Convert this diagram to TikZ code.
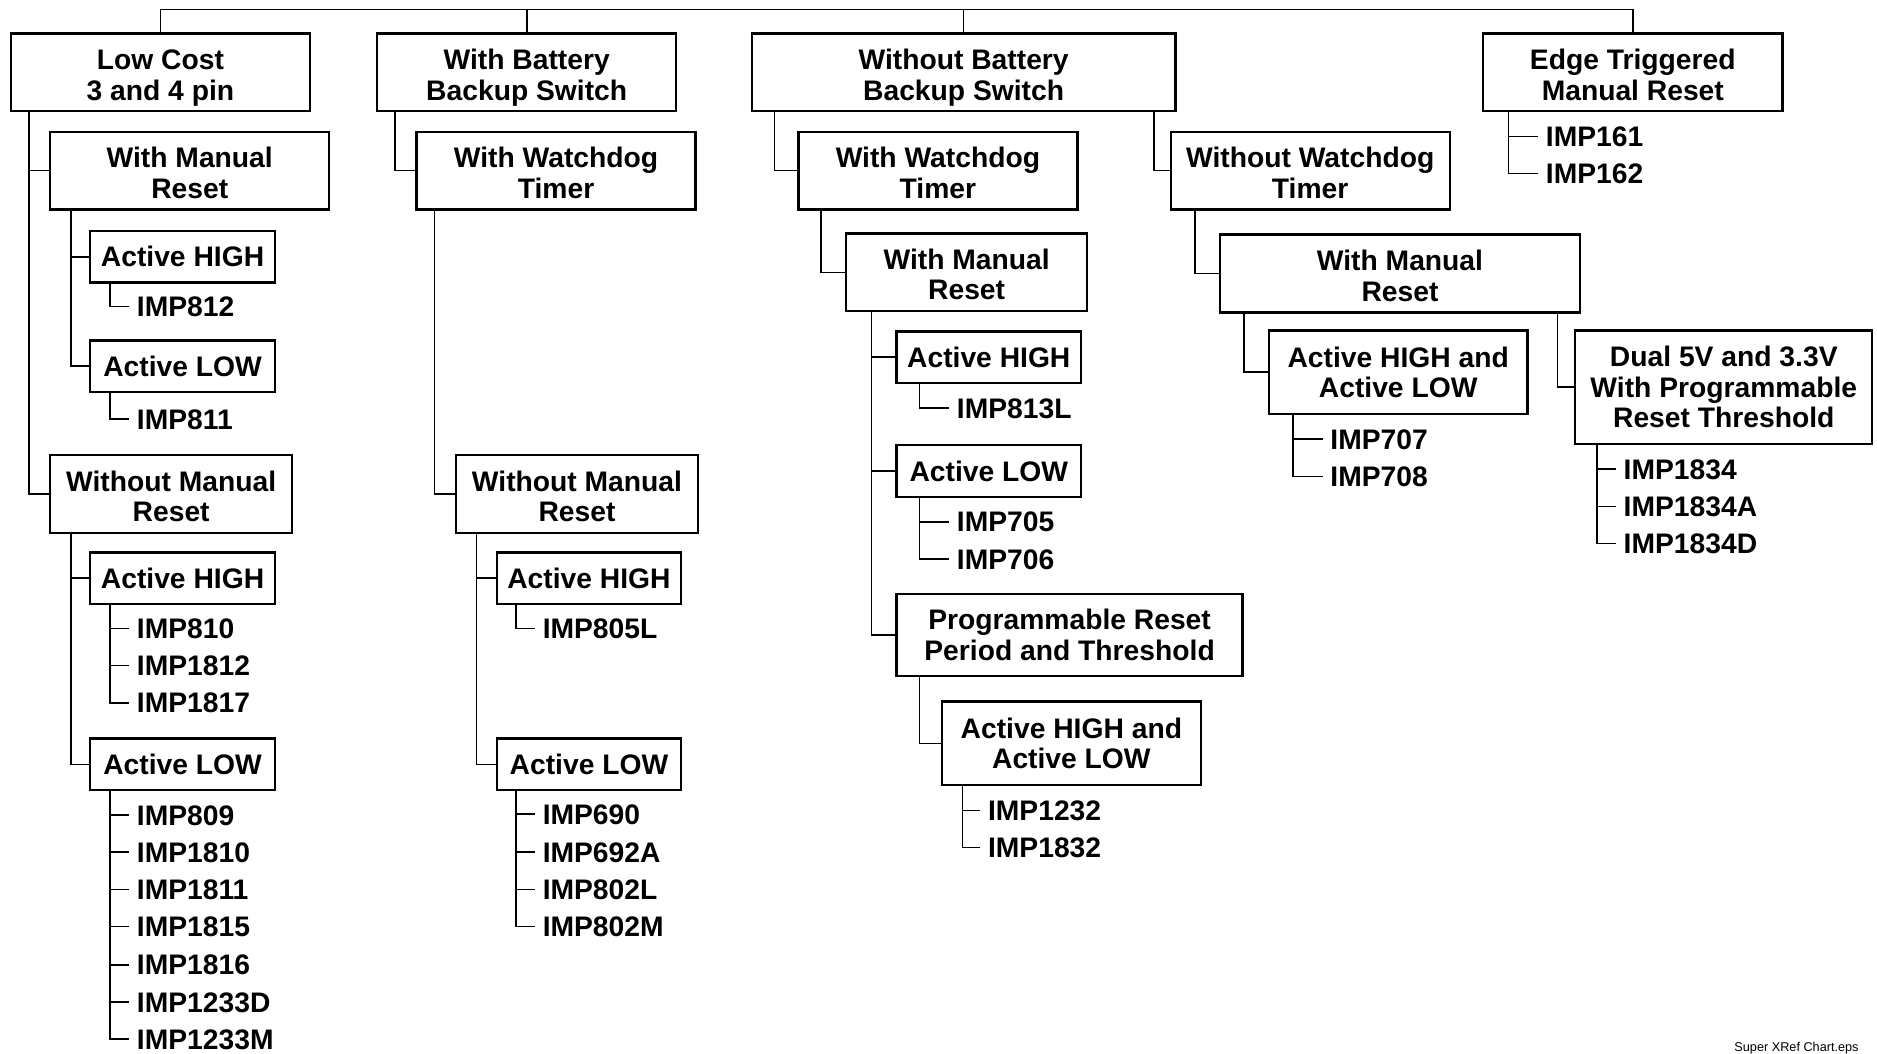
\documentclass[tikz,border=0pt]{standalone}
\usepackage{fontspec}
\setmainfont{Liberation Sans}
\tikzset{
  box/.style={draw, line width=0.95pt, inner sep=0pt, align=center,
    font=\bfseries\fontsize{11.8}{12.7}\selectfont, text height=8.4pt, text depth=0pt},
  boxtwo/.style={box, text height=23.1pt, text depth=0pt},
  boxtwosym/.style={box, text height=21.1pt, text depth=0pt},
  boxthree/.style={box, text height=33.8pt, text depth=0pt},
  leaf/.style={anchor=west, inner xsep=3pt, inner ysep=0pt,
    font=\bfseries\fontsize{11.8}{12.7}\selectfont, text height=8.4pt, text depth=0pt},
  conn/.style={line width=0.7pt},
}
\begin{document}
\begin{tikzpicture}[x=0.5pt,y=-0.5pt]
\useasboundingbox (0,0) rectangle (1568,879.7);

% top level
\node[boxtwo, minimum width=125pt, minimum height=32.5pt] (lc) at (134,60.5) {Low Cost\\3 and 4 pin};
\node[boxtwo, minimum width=125pt, minimum height=32.5pt] (wb) at (440,60.5) {With Battery\\Backup Switch};
\node[boxtwo, minimum width=177pt, minimum height=32.5pt] (wob) at (805,60.5) {Without Battery\\Backup Switch};
\node[boxtwo, minimum width=125pt, minimum height=32.5pt] (et) at (1364,60.5) {Edge Triggered\\Manual Reset};
\coordinate (busY) at (0,8);
\draw[conn] (lc.north) |- (et.north |- busY) -- (et.north);
\draw[conn] (wb.north) -- (wb.north |- busY);
\draw[conn] (wob.north) -- (wob.north |- busY);

% ---------- column 1 : Low Cost
\node[boxtwo, minimum width=116.5pt, minimum height=32.5pt] (wmr1) at (158.5,142.5) {With Manual\\Reset};
\node[box, minimum width=77.5pt, minimum height=21.5pt] (ah1) at (152.5,214.5) {Active HIGH};
\node[box, minimum width=77.5pt, minimum height=21.5pt] (al1) at (152.5,306) {Active LOW};
\node[boxtwo, minimum width=101pt, minimum height=32.5pt] (womr1) at (143,412.5) {Without Manual\\Reset};
\node[box, minimum width=77.5pt, minimum height=21.5pt] (ah2) at (152.5,483) {Active HIGH};
\node[box, minimum width=77.5pt, minimum height=21.5pt] (al2) at (152.5,638.5) {Active LOW};

\node[leaf] (i812) at (108,256) {IMP812};
\node[leaf] (i811) at (108,350) {IMP811};
\node[leaf] (i810) at (108,525) {IMP810};
\node[leaf] (i1812) at (108,556) {IMP1812};
\node[leaf] (i1817) at (108,587) {IMP1817};
\node[leaf] (i809) at (108,681) {IMP809};
\node[leaf] (i1810) at (108,712) {IMP1810};
\node[leaf] (i1811) at (108,743) {IMP1811};
\node[leaf] (i1815) at (108,774) {IMP1815};
\node[leaf] (i1816) at (108,806) {IMP1816};
\node[leaf] (i1233d) at (108,837) {IMP1233D};
\node[leaf] (i1233m) at (108,868) {IMP1233M};

\path (lc.south west) ++(16,0) coordinate (c1a);
\path (wmr1.south west) ++(18,0) coordinate (c1b);
\path (ah1.south west) ++(18,0) coordinate (c1c);
\path (al1.south west) ++(18,0) coordinate (c1d);
\path (womr1.south west) ++(18,0) coordinate (c1e);
\path (ah2.south west) ++(18,0) coordinate (c1f);
\path (al2.south west) ++(18,0) coordinate (c1g);
\draw[conn] (c1a) |- (wmr1.west);
\draw[conn] (c1a) |- (womr1.west);
\draw[conn] (c1b) |- (ah1.west);
\draw[conn] (c1b) |- (al1.west);
\draw[conn] (c1c) |- (i812.west);
\draw[conn] (c1d) |- (i811.west);
\draw[conn] (c1e) |- (ah2.west);
\draw[conn] (c1e) |- (al2.west);
\foreach \n in {i810,i1812,i1817} \draw[conn] (c1f) |- (\n.west);
\foreach \n in {i809,i1810,i1811,i1815,i1816,i1233d,i1233m} \draw[conn] (c1g) |- (\n.west);

% ---------- column 2 : With Battery
\node[boxtwo, minimum width=116.5pt, minimum height=32.5pt] (wwt2) at (464.5,142.5) {With Watchdog\\Timer};
\node[boxtwo, minimum width=101pt, minimum height=32.5pt] (womr2) at (482,412.5) {Without Manual\\Reset};
\node[box, minimum width=77pt, minimum height=21.5pt] (ah3) at (492,483) {Active HIGH};
\node[box, minimum width=77pt, minimum height=21.5pt] (al3) at (492,638.5) {Active LOW};

\node[leaf] (i805l) at (447,525) {IMP805L};
\node[leaf] (i690) at (447,680) {IMP690};
\node[leaf] (i692a) at (447,712) {IMP692A};
\node[leaf] (i802l) at (447,743) {IMP802L};
\node[leaf] (i802m) at (447,774) {IMP802M};

\path (wb.south west) ++(16,0) coordinate (c2a);
\path (wwt2.south west) ++(16,0) coordinate (c2b);
\path (womr2.south west) ++(18,0) coordinate (c2c);
\path (ah3.south west) ++(17,0) coordinate (c2d);
\path (al3.south west) ++(17,0) coordinate (c2e);
\draw[conn] (c2a) |- (wwt2.west);
\draw[conn] (c2b) |- (womr2.west);
\draw[conn] (c2c) |- (ah3.west);
\draw[conn] (c2c) |- (al3.west);
\draw[conn] (c2d) |- (i805l.west);
\foreach \n in {i690,i692a,i802l,i802m} \draw[conn] (c2e) |- (\n.west);

% ---------- column 3 : Without Battery
\node[boxtwo, minimum width=116.5pt, minimum height=32.5pt] (wwt3) at (783.5,142.5) {With Watchdog\\Timer};
\node[boxtwo, minimum width=116.5pt, minimum height=32.5pt] (wowt) at (1094.5,142.5) {Without Watchdog\\Timer};
\node[boxtwo, minimum width=100.5pt, minimum height=32.5pt] (wmr3) at (807.5,227.5) {With Manual\\Reset};
\node[box, minimum width=77pt, minimum height=21.5pt] (ah4) at (826,298.5) {Active HIGH};
\node[box, minimum width=77pt, minimum height=21.5pt] (al4) at (826,393.5) {Active LOW};
\node[boxtwosym, minimum width=144.5pt, minimum height=34.5pt] (prog) at (893.5,530.5) {Programmable Reset\\Period and Threshold};
\node[boxtwosym, minimum width=108pt, minimum height=35pt] (ahal1) at (895,621) {Active HIGH and\\Active LOW};
\node[boxtwo, minimum width=150.5pt, minimum height=32.5pt] (wmr4) at (1169.5,228.5) {With Manual\\Reset};
\node[boxtwosym, minimum width=108pt, minimum height=35pt] (ahal2) at (1168,311) {Active HIGH and\\Active LOW};
\node[boxthree, minimum width=124pt, minimum height=47.5pt] (dual) at (1440,323.5) {Dual 5V and 3.3V\\With Programmable\\Reset Threshold};

\node[leaf] (i813l) at (793,341) {IMP813L};
\node[leaf] (i705) at (793,436) {IMP705};
\node[leaf] (i706) at (793,467) {IMP706};
\node[leaf] (i1232) at (819,677) {IMP1232};
\node[leaf] (i1832) at (819,708) {IMP1832};
\node[leaf] (i707) at (1105,367) {IMP707};
\node[leaf] (i708) at (1105,398) {IMP708};
\node[leaf] (i1834) at (1350,392) {IMP1834};
\node[leaf] (i1834a) at (1350,423) {IMP1834A};
\node[leaf] (i1834d) at (1350,454) {IMP1834D};

\path (wob.south west) ++(20,0) coordinate (c3a);
\path (wob.south east) ++(-19,0) coordinate (c3b);
\path (wwt3.south west) ++(20,0) coordinate (c3c);
\path (wmr3.south west) ++(22,0) coordinate (c3d);
\path (ah4.south west) ++(20,0) coordinate (c3e);
\path (al4.south west) ++(20,0) coordinate (c3f);
\path (prog.south west) ++(20,0) coordinate (c3g);
\path (ahal1.south west) ++(18,0) coordinate (c3h);
\path (wowt.south west) ++(21,0) coordinate (c3i);
\path (wmr4.south west) ++(21,0) coordinate (c3j);
\path (wmr4.south east) ++(-20,0) coordinate (c3k);
\path (ahal2.south west) ++(21,0) coordinate (c3l);
\path (dual.south west) ++(19,0) coordinate (c3m);
\draw[conn] (c3a) |- (wwt3.west);
\draw[conn] (c3b) |- (wowt.west);
\draw[conn] (c3c) |- (wmr3.west);
\draw[conn] (c3d) |- (ah4.west);
\draw[conn] (c3d) |- (al4.west);
\draw[conn] (c3d) |- (prog.west);
\draw[conn] (c3e) |- (i813l.west);
\draw[conn] (c3f) |- (i705.west);
\draw[conn] (c3f) |- (i706.west);
\draw[conn] (c3g) |- (ahal1.west);
\draw[conn] (c3h) |- (i1232.west);
\draw[conn] (c3h) |- (i1832.west);
\draw[conn] (c3i) |- (wmr4.west);
\draw[conn] (c3j) |- (ahal2.west);
\draw[conn] (c3k) |- (dual.west);
\draw[conn] (c3l) |- (i707.west);
\draw[conn] (c3l) |- (i708.west);
\foreach \n in {i1834,i1834a,i1834d} \draw[conn] (c3m) |- (\n.west);

% ---------- column 4 : Edge Triggered
\node[leaf] (i161) at (1285,114) {IMP161};
\node[leaf] (i162) at (1285,145) {IMP162};
\path (et.south west) ++(22,0) coordinate (c4a);
\draw[conn] (c4a) |- (i161.west);
\draw[conn] (c4a) |- (i162.west);

% footer
\node[anchor=base east, inner sep=0pt, font=\fontsize{5.3}{6}\selectfont] (foot) at (1553,878) {Super XRef Chart.eps};
\end{tikzpicture}
\end{document}
